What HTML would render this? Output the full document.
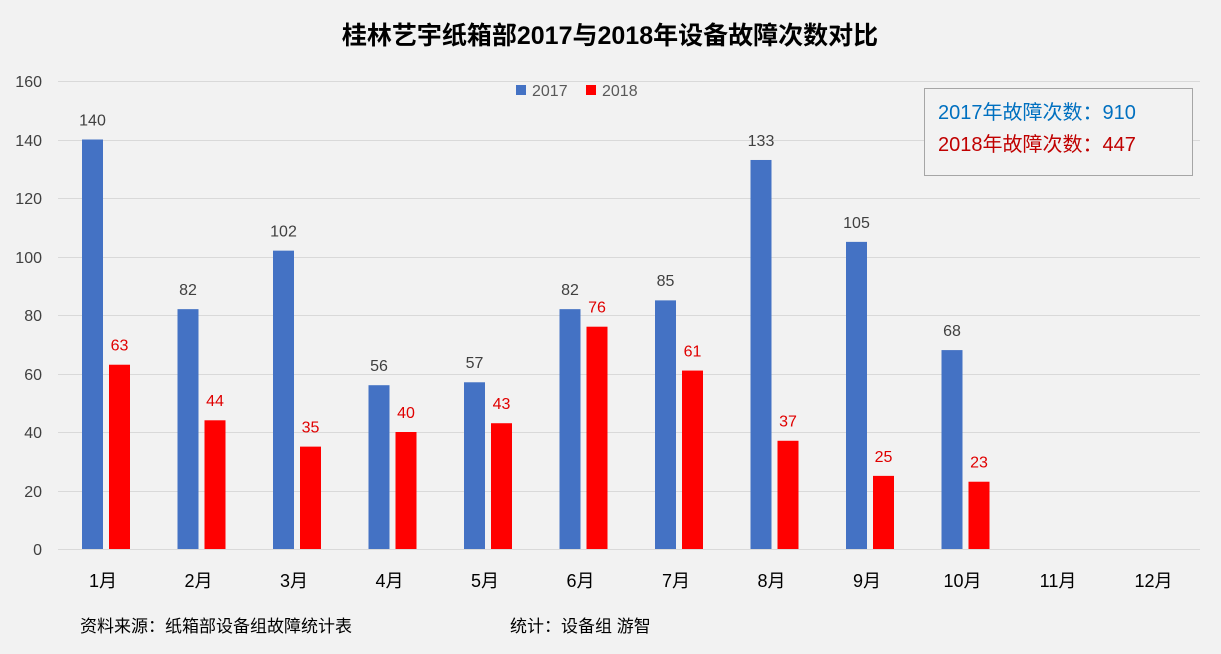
<!DOCTYPE html>
<html><head><meta charset="utf-8"><style>
body{margin:0;background:#f2f2f2;}
svg{display:block;font-family:"Liberation Sans","Noto Sans CJK SC",sans-serif;}
</style></head><body>
<svg width="1221" height="654" viewBox="0 0 1221 654">
<rect width="1221" height="654" fill="#f2f2f2"/>
<text x="610" y="44" text-anchor="middle" font-size="25" font-weight="bold" fill="#000">桂林艺宇纸箱部2017与2018年设备故障次数对比</text>
<g stroke="#d9d9d9" stroke-width="1">
<line x1="58" x2="1200" y1="81.5" y2="81.5"/>
<line x1="58" x2="1200" y1="140.5" y2="140.5"/>
<line x1="58" x2="1200" y1="198.5" y2="198.5"/>
<line x1="58" x2="1200" y1="257.5" y2="257.5"/>
<line x1="58" x2="1200" y1="315.5" y2="315.5"/>
<line x1="58" x2="1200" y1="374.5" y2="374.5"/>
<line x1="58" x2="1200" y1="432.5" y2="432.5"/>
<line x1="58" x2="1200" y1="491.5" y2="491.5"/>
<line x1="58" x2="1200" y1="549.5" y2="549.5"/>
</g>
<g font-size="16" fill="#404040" text-anchor="end">
<text x="42" y="87">160</text><text x="42" y="146">140</text><text x="42" y="204">120</text>
<text x="42" y="263">100</text><text x="42" y="321">80</text><text x="42" y="380">60</text>
<text x="42" y="438">40</text><text x="42" y="497">20</text><text x="42" y="555">0</text>
</g>
<g fill="#4472c4">
<rect x="82" y="139.5" width="21" height="409.5"/>
<rect x="177.5" y="309.15" width="21" height="239.85"/>
<rect x="273" y="250.65" width="21" height="298.35"/>
<rect x="368.5" y="385.2" width="21" height="163.8"/>
<rect x="464" y="382.275" width="21" height="166.725"/>
<rect x="559.5" y="309.15" width="21" height="239.85"/>
<rect x="655" y="300.375" width="21" height="248.625"/>
<rect x="750.5" y="159.975" width="21" height="389.025"/>
<rect x="846" y="241.875" width="21" height="307.125"/>
<rect x="941.5" y="350.1" width="21" height="198.9"/>
</g>
<g fill="#ff0000">
<rect x="109" y="364.725" width="21" height="184.275"/>
<rect x="204.5" y="420.3" width="21" height="128.7"/>
<rect x="300" y="446.625" width="21" height="102.375"/>
<rect x="395.5" y="432" width="21" height="117"/>
<rect x="491" y="423.225" width="21" height="125.775"/>
<rect x="586.5" y="326.7" width="21" height="222.3"/>
<rect x="682" y="370.575" width="21" height="178.425"/>
<rect x="777.5" y="440.775" width="21" height="108.225"/>
<rect x="873" y="475.875" width="21" height="73.125"/>
<rect x="968.5" y="481.725" width="21" height="67.275"/>
</g>
<g font-size="16" fill="#404040" text-anchor="middle">
<text x="92.5" y="125.5">140</text>
<text x="188" y="295">82</text>
<text x="283.5" y="236.5">102</text>
<text x="379" y="371">56</text>
<text x="474.5" y="368">57</text>
<text x="570" y="295">82</text>
<text x="665.5" y="286">85</text>
<text x="761" y="146">133</text>
<text x="856.5" y="228">105</text>
<text x="952" y="336">68</text>
</g>
<g font-size="16" fill="#e00000" text-anchor="middle">
<text x="119.5" y="350.5">63</text>
<text x="215" y="406">44</text>
<text x="310.5" y="432.5">35</text>
<text x="406" y="418">40</text>
<text x="501.5" y="409">43</text>
<text x="597" y="312.5">76</text>
<text x="692.5" y="356.5">61</text>
<text x="788" y="426.5">37</text>
<text x="883.5" y="462">25</text>
<text x="979" y="467.5">23</text>
</g>
<g font-size="18" fill="#000" text-anchor="middle">
<text x="103" y="587">1月</text>
<text x="198.5" y="587">2月</text>
<text x="294" y="587">3月</text>
<text x="389.5" y="587">4月</text>
<text x="485" y="587">5月</text>
<text x="580.5" y="587">6月</text>
<text x="676" y="587">7月</text>
<text x="771.5" y="587">8月</text>
<text x="867" y="587">9月</text>
<text x="962.5" y="587">10月</text>
<text x="1058" y="587">11月</text>
<text x="1153.5" y="587">12月</text>
</g>
<rect x="516" y="85" width="10" height="10" fill="#4472c4"/>
<text x="532" y="96" font-size="16" fill="#595959">2017</text>
<rect x="586" y="85" width="10" height="10" fill="#ff0000"/>
<text x="602" y="96" font-size="16" fill="#595959">2018</text>
<rect x="924.5" y="88.5" width="268" height="87" fill="#f2f2f2" stroke="#a6a6a6"/>
<text x="938" y="119" font-size="20" fill="#0070c0">2017年故障次数：910</text>
<text x="938" y="151" font-size="20" fill="#c00000">2018年故障次数：447</text>
<text x="80" y="632" font-size="17" fill="#000">资料来源：纸箱部设备组故障统计表</text>
<text x="510" y="632" font-size="17" fill="#000">统计：设备组 游智</text>
</svg>
</body></html>
